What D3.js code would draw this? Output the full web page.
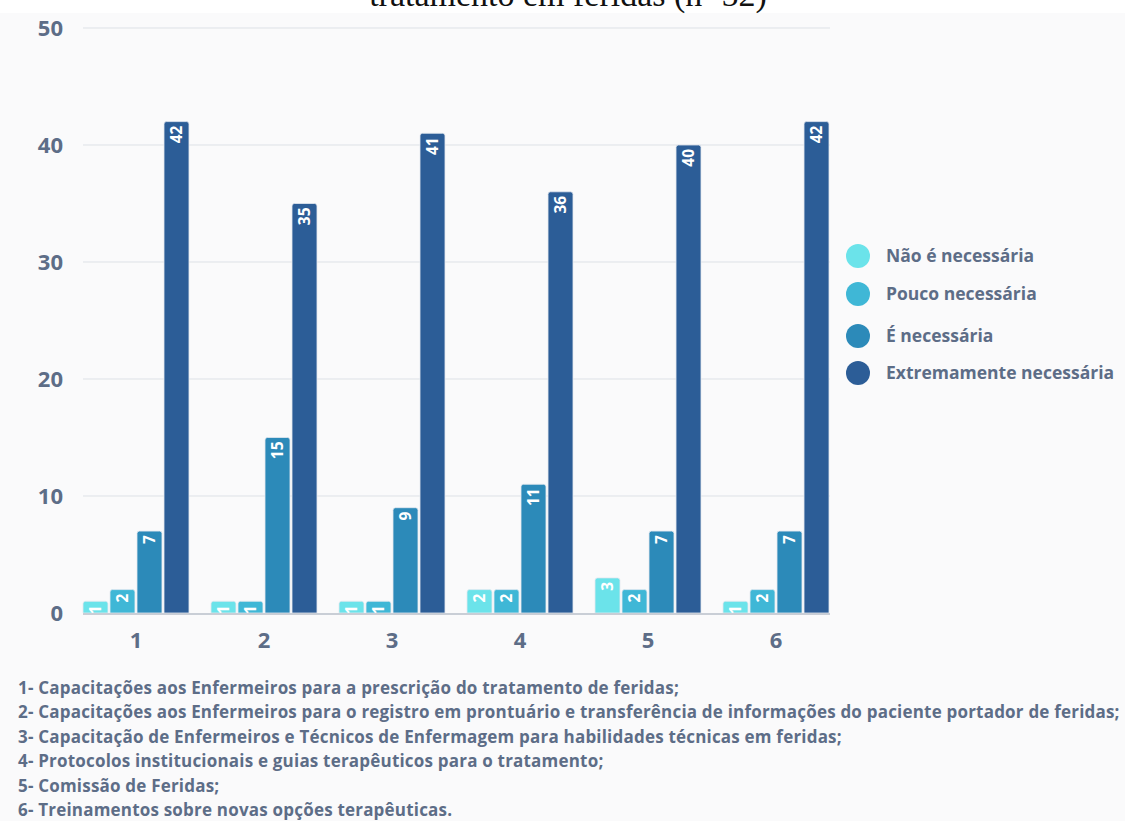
<!DOCTYPE html>
<html>
<head>
<meta charset="utf-8">
<script src="https://cdn.jsdelivr.net/npm/d3@7"></script>
<style>
  html, body { margin: 0; padding: 0; background: #fff; }
  svg { display: block; }
</style>
</head>
<body>
<div id="gr"></div>
<script>
// data
var groups = ["1", "2", "3", "4", "5", "6"];
var seriesNames = ["Não é necessária", "Pouco necessária", "É necessária", "Extremamente necessária"];
var naoNecessaria = [1, 1, 1, 2, 3, 1];
var poucoNecessaria = [2, 1, 1, 2, 2, 2];
var eNecessaria = [7, 15, 9, 11, 7, 7];
var extremamente = [42, 35, 41, 36, 40, 42];
var yTicks = [0, 10, 20, 30, 40, 50];
var notes = [
  "1- Capacitações aos Enfermeiros para a prescrição do tratamento de feridas;",
  "2- Capacitações aos Enfermeiros para o registro em prontuário e transferência de informações do paciente portador de feridas;",
  "3- Capacitação de Enfermeiros e Técnicos de Enfermagem para habilidades técnicas em feridas;",
  "4- Protocolos institucionais e guias terapêuticos para o tratamento;",
  "5- Comissão de Feridas;",
  "6- Treinamentos sobre novas opções terapêuticas."
];

var colors = ["#6be3ea", "#3fb7d6", "#2c8ab9", "#2c5d97"];
var textCol = "#5d6d87";

var width = 1125, height = 821;

var svg = d3.select("#gr").append("svg").
attr("width", width).
attr("height", height).
style("font-family", "'Open Sans', sans-serif");

// background
svg.append("rect").attr("x", 0).attr("y", 0).attr("width", width).attr("height", height).attr("fill", "#fff");
svg.append("rect").attr("x", 0).attr("y", 13).attr("width", width).attr("height", height - 13).attr("fill", "#fafafb");

// title, cut off at the top like in the source
svg.append("text").
attr("x", 568).
attr("y", 6).
attr("text-anchor", "middle").
style("font-family", "'Liberation Serif', 'Times New Roman', serif").
style("font-size", "34px").
attr("fill", "#111").
text("tratamento em feridas (n=52)");

var series = [naoNecessaria, poucoNecessaria, eNecessaria, extremamente];
var rows = [];
groups.forEach(function (g, i) {
  series.forEach(function (s, j) {
    rows.push({ group: g, k: j, value: s[i] });
  });
});

var x0 = d3.scaleBand().domain(groups).range([83, 829]).paddingInner(0.172).paddingOuter(0);
var x1 = d3.scaleBand().domain(d3.range(4)).range([0, x0.bandwidth()]).paddingInner(0.075);
var y = d3.scaleLinear().domain([0, 50]).range([613, 28]);

// grid
svg.append("g").selectAll("line").
data(yTicks.filter(function (d) {return d > 0;})).
enter().append("line").
attr("x1", 83).attr("x2", 830).
attr("y1", function (d) {return y(d);}).
attr("y2", function (d) {return y(d);}).
attr("stroke", "#dde1e6").
attr("stroke-width", 1);

// y axis labels
var yAxis = d3.axisLeft(y).tickValues(yTicks).tickSize(0).tickPadding(0);
var ya = svg.append("g").attr("transform", "translate(63,0)").call(yAxis);
ya.select(".domain").remove();
ya.selectAll("text").
attr("fill", textCol).
style("font-size", "22px").
style("font-weight", "700").
style("font-family", "'Open Sans', sans-serif");

// bars with rounded tops
function barPath(d) {
  var xl = x0(d.group) + x1(d.k), w = x1.bandwidth();
  var yt = y(d.value), yb = y(0), r = Math.min(2.5, (yb - yt) / 2);
  return "M" + xl + "," + yb + "V" + (yt + r) + "Q" + xl + "," + yt + " " + (xl + r) + "," + yt +
  "H" + (xl + w - r) + "Q" + (xl + w) + "," + yt + " " + (xl + w) + "," + (yt + r) + "V" + yb + "Z";
}

svg.append("g").selectAll("path").
data(rows).
enter().append("path").
attr("d", barPath).
attr("fill", function (d) {return colors[d.k];}).
attr("stroke", "#e3e9f0").
attr("stroke-width", 0.8);

// value labels, rotated to read bottom-up
svg.append("g").selectAll("text").
data(rows).
enter().append("text").
attr("transform", function (d) {
  var cx = x0(d.group) + x1(d.k) + x1.bandwidth() / 2;
  return "translate(" + cx + "," + (y(d.value) + 4) + ") rotate(-90)";
}).
attr("dy", "0.36em").
attr("text-anchor", "end").
attr("fill", "#fff").
style("font-size", "15.5px").
style("font-weight", "700").
text(function (d) {return d.value;});

// baseline
svg.append("line").
attr("x1", 83).attr("x2", 830).
attr("y1", y(0) + 1).attr("y2", y(0) + 1).
attr("stroke", "#c9ced6").
attr("stroke-width", 2);

// x labels
var xAxis = d3.axisBottom(x0).tickSize(0).tickPadding(0);
var xa = svg.append("g").attr("transform", "translate(0,640)").call(xAxis);
xa.select(".domain").remove();
xa.selectAll("text").
attr("dy", "0.36em").
attr("fill", textCol).
style("font-size", "22px").
style("font-weight", "700").
style("font-family", "'Open Sans', sans-serif");

// legend
var legY = [256, 294, 336, 373];
var leg = svg.append("g").selectAll("g").
data(seriesNames).
enter().append("g").
attr("transform", function (d, i) {return "translate(858," + legY[i] + ")";});
leg.append("circle").attr("r", 12).attr("fill", function (d, i) {return colors[i];});
leg.append("text").
attr("x", 28).
attr("dy", "0.36em").
attr("fill", textCol).
style("font-size", "17.5px").
style("font-weight", "700").
text(function (d) {return d;});

// footnotes
svg.append("g").selectAll("text").
data(notes).
enter().append("text").
attr("x", 18).
attr("y", function (d, i) {return 694 + i * 24.4;}).
attr("fill", textCol).
style("font-size", "17px").
style("letter-spacing", "0.2px").
style("font-weight", "700").
text(function (d) {return d;});
</script>
</body>
</html>
